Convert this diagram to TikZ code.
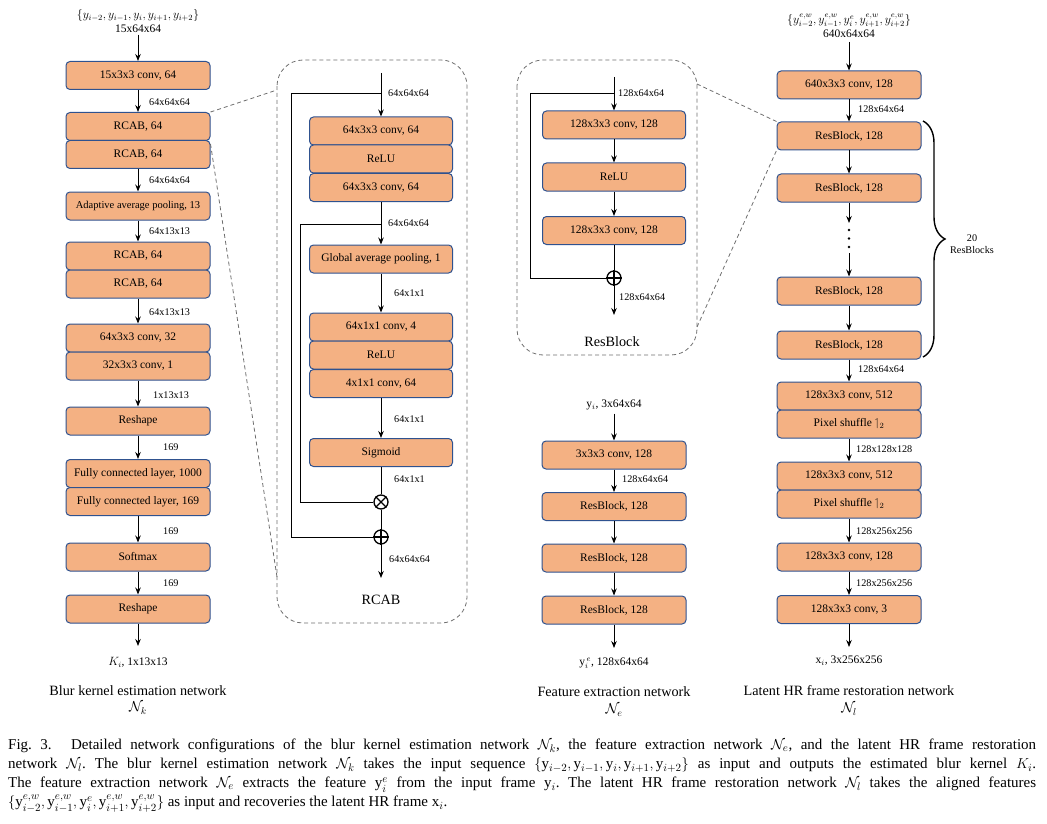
\documentclass[tikz,border=0pt]{standalone}
\usepackage{amsmath,amssymb}
\usepackage{fontspec}
\setmainfont{Liberation Serif}
\usetikzlibrary{arrows.meta,positioning,decorations.pathreplacing}
\definecolor{boxfill}{RGB}{244,177,131}
\definecolor{boxline}{RGB}{47,82,143}
\definecolor{panelgray}{RGB}{110,110,110}
\newcommand{\boxfont}{\fontsize{11.5}{13}\selectfont}
\newcommand{\smallfont}{\fontsize{10.5}{12}\selectfont}
\newcommand{\dimfont}{\fontsize{10.2}{12}\selectfont}
\newcommand{\ttlfont}{\fontsize{14.2}{16}\selectfont}
\newcommand{\capfont}{\fontsize{15}{19}\selectfont}

\begin{document}
\begin{tikzpicture}[x=1pt,y=-1pt,every node/.style={font=\boxfont},
    blk/.style={draw=boxline,fill=boxfill,line width=1pt,rounded corners=4pt,
      minimum width=144pt,minimum height=28pt,inner sep=0pt},
    dim/.style={anchor=west,font=\dimfont,inner sep=0pt},
    io/.style={align=center,inner sep=2pt},
    ttl/.style={font=\ttlfont},
    flow/.style={-{Stealth[length=7pt,width=5.5pt]},line width=0.9pt},
    wire/.style={line width=0.9pt},
    panel/.style={draw=panelgray,dash pattern=on 4pt off 3pt,line width=0.8pt,rounded corners=26pt},
    link/.style={draw=panelgray,dash pattern=on 4pt off 3pt,line width=0.8pt},
    sum/.style={circle,draw,line width=1.3pt,minimum size=14pt,inner sep=0pt}]
  \useasboundingbox (0,0) rectangle (1047,824);

  % blur kernel estimation network
  \node[io] (kin) at (138,21) {$\{y_{i-2},y_{i-1},y_i,y_{i+1},y_{i+2}\}$\\[0.5pt]15x64x64};
  \foreach \n/\y/\t in {k1/75.5/{15x3x3 conv, 64}, k2/126.5/{RCAB, 64}, k3/154.5/{RCAB, 64},
      k4/206/{\smallfont Adaptive average pooling, 13}, k5/256/{RCAB, 64}, k6/284/{RCAB, 64},
      k7/338/{64x3x3 conv, 32}, k8/366/{32x3x3 conv, 1}, k9/421/Reshape,
      k10/473.5/{Fully connected layer, 1000}, k11/501.5/{Fully connected layer, 169},
      k12/557/Softmax, k13/609/Reshape}
    \node[blk] (\n) at (138,\y) {\t};
  \coordinate (kend) at (138,646);
  \draw[flow] (kin) -- (k1);
  \foreach \a/\b in {k1/k2,k3/k4,k4/k5,k6/k7,k8/k9,k9/k10,k11/k12,k12/k13,k13/kend}
    \draw[flow] (\a) -- (\b);
  \foreach \x/\y/\t [count=\i] in {149/102/64x64x64, 149/180/64x64x64, 149/231/64x13x13,
      149/312/64x13x13, 153/395/1x13x13, 163/447/169, 163/531/169, 163/583/169}
    \node[dim] (kd\i) at (\x,\y) {\t};
  \node (kout) at (138,662) {$K_i$, 1x13x13};
  \node[ttl] (kt1) at (138,691) {Blur kernel estimation network};
  \node[ttl] (kt2) at (138,708) {$\mathcal{N}_k$};

  % RCAB
  \draw[panel] (277,60) rectangle (467,623);
  \foreach \n/\y/\t in {a1/131/{64x3x3 conv, 64}, a2/159/ReLU, a3/187.5/{64x3x3 conv, 64},
      a4/259/{Global average pooling, 1}, a5/327/{64x1x1 conv, 4}, a6/355/ReLU,
      a7/383.5/{4x1x1 conv, 64}, a8/452.5/Sigmoid}
    \node[blk,minimum width=143pt] (\n) at (381,\y) {\t};
  \node[sum] (amul) at (381,502) {};
  \node[sum] (aadd) at (381,537) {};
  \draw[line width=1.2pt] (amul.north west) -- (amul.south east) (amul.north east) -- (amul.south west);
  \draw[line width=1.2pt] (aadd.north) -- (aadd.south) (aadd.west) -- (aadd.east);
  \coordinate (ain) at (381,73);
  \coordinate (askip) at (381,93);
  \coordinate (aatt) at (381,224);
  \coordinate (aend) at (381,578);
  \draw[flow] (ain) -- (a1);
  \draw[flow] (a3) -- (a4);
  \draw[flow] (a4) -- (a5);
  \draw[flow] (a7) -- (a8);
  \draw[wire] (a8) -- (amul);
  \draw[wire] (amul) -- (aadd);
  \draw[flow] (aadd) -- (aend);
  \draw[wire] (askip) -- ++(-90,0) |- (aadd);
  \draw[wire] (aatt) -- ++(-81,0) |- (amul);
  \foreach \x/\y/\t [count=\i] in {388/93/64x64x64, 388/223/64x64x64, 394/293/64x1x1,
      394/419/64x1x1, 394/479/64x1x1, 389/559/64x64x64}
    \node[dim] (ad\i) at (\x,\y) {\t};
  \node[ttl] (at) at (381,600) {RCAB};
  \coordinate (pa1) at (277,90);
  \coordinate (pa2) at (277,577);
  \draw[link] (k2.north east) -- (pa1);
  \draw[link] ([yshift=-4pt]k3.north east) -- (pa2);

  % ResBlock
  \draw[panel] (517,60) rectangle (697,355);
  \foreach \n/\y/\t in {b1/125/{128x3x3 conv, 128}, b2/177/ReLU, b3/230.5/{128x3x3 conv, 128}}
    \node[blk,minimum width=143pt] (\n) at (614,\y) {\t};
  \node[sum] (badd) at (614,278) {};
  \draw[line width=1.2pt] (badd.north) -- (badd.south) (badd.west) -- (badd.east);
  \coordinate (bin) at (614,77);
  \coordinate (bskip) at (614,93);
  \coordinate (bend) at (614,315);
  \draw[flow] (bin) -- (b1);
  \draw[flow] (b1) -- (b2);
  \draw[flow] (b2) -- (b3);
  \draw[wire] (b3) -- (badd);
  \draw[flow] (badd) -- (bend);
  \draw[wire] (bskip) -- ++(-84,0) |- (badd);
  \node[dim] (bd1) at (618,93) {128x64x64};
  \node[dim] (bd2) at (619,297) {128x64x64};
  \node[ttl] (bt) at (612,342) {ResBlock};

  % feature extraction network
  \node (fin) at (614,405) {$\mathrm{y}_i$, 3x64x64};
  \foreach \n/\y/\t in {f1/455/{3x3x3 conv, 128}, f2/506.5/{ResBlock, 128},
      f3/558/{ResBlock, 128}, f4/610/{ResBlock, 128}}
    \node[blk] (\n) at (614,\y) {\t};
  \coordinate (fend) at (614,648);
  \foreach \a/\b in {fin/f1,f1/f2,f2/f3,f3/f4,f4/fend}
    \draw[flow] (\a) -- (\b);
  \node[dim] (fd1) at (622,479) {128x64x64};
  \node (fout) at (614,663) {$\mathrm{y}_i^{\,e}$, 128x64x64};
  \node[ttl] (ft1) at (614,692) {Feature extraction network};
  \node[ttl] (ft2) at (614,710) {$\mathcal{N}_e$};

  % latent HR frame restoration network
  \node[io,inner sep=4pt] (rin) at (849,26)
    {$\{y^{e,w}_{i-2},y^{e,w}_{i-1},y^{e}_{i},y^{e,w}_{i+1},y^{e,w}_{i+2}\}$\\[1pt]640x64x64};
  \foreach \n/\y/\t in {r0/85/{640x3x3 conv, 128}, r1/136/{ResBlock, 128}, r2/188/{ResBlock, 128},
      r3/291/{ResBlock, 128}, r4/345/{ResBlock, 128}, r5/396/{128x3x3 conv, 512},
      r6/424/{Pixel shuffle $\upharpoonleft_2$}, r7/476/{128x3x3 conv, 512},
      r8/504/{Pixel shuffle $\upharpoonleft_2$}, r9/557/{128x3x3 conv, 128}, r10/609.5/{128x3x3 conv, 3}}
    \node[blk] (\n) at (849,\y) {\t};
  \coordinate (rgap1) at (849,223);
  \coordinate (rgap2) at (849,253);
  \coordinate (rend) at (849,647);
  \foreach \a/\b in {rin/r0,r0/r1,r1/r2,r2/rgap1,rgap2/r3,r3/r4,r4/r5,r6/r7,r8/r9,r9/r10,r10/rend}
    \draw[flow] (\a) -- (\b);
  \foreach \y in {230,238.5,247}
    \fill (849,\y) circle (1.4pt);
  \foreach \x/\y/\t [count=\i] in {858/109/128x64x64, 858/369/128x64x64, 856/449/128x128x128,
      856/531/128x256x256, 856/583/128x256x256}
    \node[dim] (rd\i) at (\x,\y) {\t};
  \draw[decorate,decoration={brace,amplitude=22pt},line width=1.4pt] (923,121) -- (923,357);
  \node[align=center,font=\dimfont] (rn) at (972,244) {20\\ResBlocks};
  \node (rout) at (849,661) {$\mathrm{x}_i$, 3x256x256};
  \node[ttl] (rt1) at (849,691) {Latent HR frame restoration network};
  \node[ttl] (rt2) at (849,709) {$\mathcal{N}_l$};
  \coordinate (pb1) at (697,84);
  \coordinate (pb2) at (697,327);
  \draw[link] (pb1) -- (r1.north west);
  \draw[link] (pb2) -- (r1.south west);

  % caption
  \node[anchor=north west,text width=1028pt,align=justify,inner sep=0pt,font=\capfont\frenchspacing] (cap) at (8,739)
    {Fig.~3.\hspace{1.3em}Detailed network configurations of the blur kernel estimation network $\mathcal{N}_k$, the feature extraction network $\mathcal{N}_e$, and the latent HR frame restoration\linebreak
     network $\mathcal{N}_l$. The blur kernel estimation network $\mathcal{N}_k$ takes the input sequence $\{\mathrm{y}_{i-2},\mathrm{y}_{i-1},\mathrm{y}_i,\mathrm{y}_{i+1},\mathrm{y}_{i+2}\}$ as input and outputs the estimated blur kernel $K_i$.\linebreak
     The feature extraction network $\mathcal{N}_e$ extracts the feature $\mathrm{y}_i^e$ from the input frame $\mathrm{y}_i$. The latent HR frame restoration network $\mathcal{N}_l$ takes the aligned features\linebreak
     $\{\mathrm{y}^{e,w}_{i-2},\mathrm{y}^{e,w}_{i-1},\mathrm{y}^{e}_{i},\mathrm{y}^{e,w}_{i+1},\mathrm{y}^{e,w}_{i+2}\}$ as input and recoveries the latent HR frame $\mathrm{x}_i$.};
\end{tikzpicture}
\end{document}
